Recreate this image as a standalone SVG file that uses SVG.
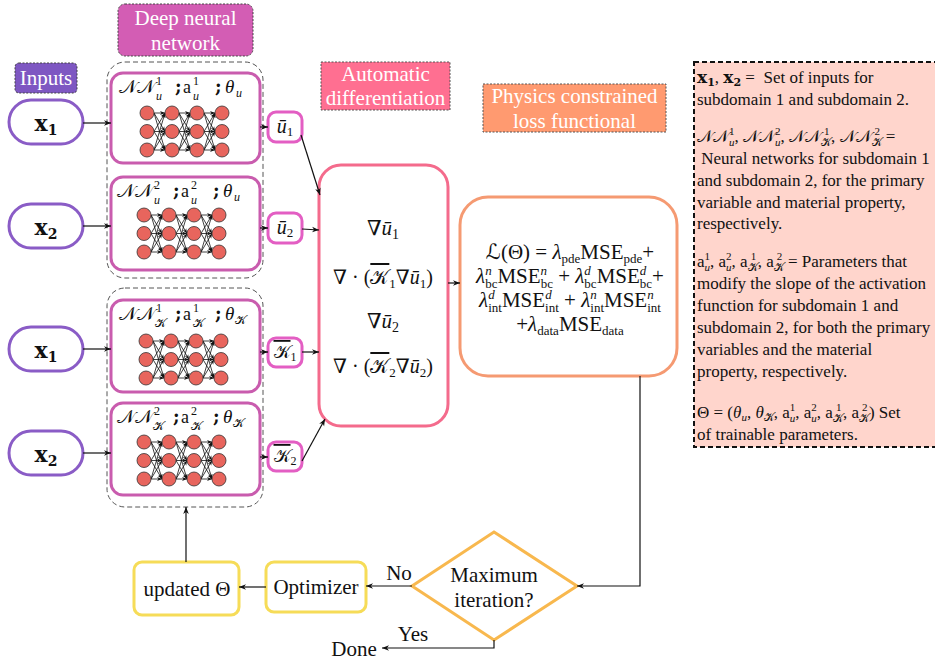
<svg xmlns="http://www.w3.org/2000/svg" width="935" height="663" viewBox="0 0 935 663">
<style>
.lbl{font-family:"Liberation Serif",serif;font-size:21px;fill:#fff;text-anchor:middle}
.t21{font-family:"Liberation Serif",serif;font-size:21px;fill:#111;text-anchor:middle}
.m{font-family:"Liberation Serif","DejaVu Serif",serif;fill:#111}
.it{font-style:italic}
.bx{font-family:"DejaVu Serif",serif;font-weight:bold;fill:#111}
.cal{font-family:"DejaVu Serif","DejaVu Sans","Noto Sans",serif;font-style:normal}
.ov{text-decoration:overline}
.oval{fill:#fff;stroke:#8a5cc6;stroke-width:3}
.nnbox{fill:#fff;stroke:#c95cae;stroke-width:3}
.obox{fill:#fff;stroke:#e35ec3;stroke-width:3}
.grp{fill:none;stroke:#555;stroke-width:1;stroke-dasharray:5 3}
.yb{fill:#fff;stroke:#f6dc58;stroke-width:3}
.conn{fill:none;stroke:#111;stroke-width:1.2;marker-end:url(#ah)}
.nl{stroke:#111;stroke-width:0.8;marker-end:url(#ah2)}
.nc{fill:#e8655d;stroke:#333;stroke-width:0.8}
.pt{font-family:"Liberation Serif",serif;font-size:17px;fill:#111}
</style>
<defs>
<marker id="ah" viewBox="0 0 10 10" refX="10" refY="5" markerWidth="7" markerHeight="7" orient="auto" markerUnits="userSpaceOnUse"><path d="M0,1 L10,5 L0,9 L3,5 z" fill="#111"/></marker>
<marker id="ah2" viewBox="0 0 10 10" refX="10" refY="5" markerWidth="5" markerHeight="5" orient="auto" markerUnits="userSpaceOnUse"><path d="M0,1 L10,5 L0,9 L3,5 z" fill="#111"/></marker>
<g id="net">
<line class="nl" x1="7" y1="0" x2="18" y2="0"/><line class="nl" x1="7" y1="0" x2="18" y2="18.5"/><line class="nl" x1="7" y1="0" x2="18" y2="37"/>
<line class="nl" x1="7" y1="18.5" x2="18" y2="0"/><line class="nl" x1="7" y1="18.5" x2="18" y2="18.5"/><line class="nl" x1="7" y1="18.5" x2="18" y2="37"/>
<line class="nl" x1="7" y1="37" x2="18" y2="0"/><line class="nl" x1="7" y1="37" x2="18" y2="18.5"/><line class="nl" x1="7" y1="37" x2="18" y2="37"/>
<line class="nl" x1="32" y1="0" x2="43" y2="0"/><line class="nl" x1="32" y1="0" x2="43" y2="18.5"/><line class="nl" x1="32" y1="0" x2="43" y2="37"/>
<line class="nl" x1="32" y1="18.5" x2="43" y2="0"/><line class="nl" x1="32" y1="18.5" x2="43" y2="18.5"/><line class="nl" x1="32" y1="18.5" x2="43" y2="37"/>
<line class="nl" x1="32" y1="37" x2="43" y2="0"/><line class="nl" x1="32" y1="37" x2="43" y2="18.5"/><line class="nl" x1="32" y1="37" x2="43" y2="37"/>
<line class="nl" x1="57" y1="0" x2="68" y2="0"/><line class="nl" x1="57" y1="0" x2="68" y2="18.5"/><line class="nl" x1="57" y1="0" x2="68" y2="37"/>
<line class="nl" x1="57" y1="18.5" x2="68" y2="0"/><line class="nl" x1="57" y1="18.5" x2="68" y2="18.5"/><line class="nl" x1="57" y1="18.5" x2="68" y2="37"/>
<line class="nl" x1="57" y1="37" x2="68" y2="0"/><line class="nl" x1="57" y1="37" x2="68" y2="18.5"/><line class="nl" x1="57" y1="37" x2="68" y2="37"/>
<circle class="nc" cx="0" cy="0" r="7"/><circle class="nc" cx="25" cy="0" r="7"/><circle class="nc" cx="50" cy="0" r="7"/><circle class="nc" cx="75" cy="0" r="7"/>
<circle class="nc" cx="0" cy="18.5" r="7"/><circle class="nc" cx="25" cy="18.5" r="7"/><circle class="nc" cx="50" cy="18.5" r="7"/><circle class="nc" cx="75" cy="18.5" r="7"/>
<circle class="nc" cx="0" cy="37" r="7"/><circle class="nc" cx="25" cy="37" r="7"/><circle class="nc" cx="50" cy="37" r="7"/><circle class="nc" cx="75" cy="37" r="7"/>
</g>
</defs>
<rect width="935" height="663" fill="#fff"/>

<!-- section labels -->
<g id="label-dnn"><rect x="118" y="4" width="135" height="52" rx="7" fill="#d35db4" stroke="#444" stroke-width="1" stroke-dasharray="2 1.5"/><text class="lbl" x="185.5" y="25">Deep neural</text><text class="lbl" x="185.5" y="50">network</text></g>
<g id="label-inputs"><rect x="15" y="63" width="62" height="30" rx="4" fill="#7e57c2" stroke="#444" stroke-width="1" stroke-dasharray="2 1.5"/><text class="lbl" x="46" y="85">Inputs</text></g>
<g id="label-ad"><rect x="321" y="62" width="129" height="48" fill="#ff6f91" stroke="#555" stroke-width="1" stroke-dasharray="2 1.5"/><text class="lbl" x="385.5" y="81">Automatic</text><text class="lbl" x="385.5" y="105">differentiation</text></g>
<g id="label-loss"><rect x="483" y="84" width="183" height="48" fill="#ff9a70" stroke="#555" stroke-width="1" stroke-dasharray="2 1.5"/><text class="lbl" x="574.5" y="103">Physics constrained</text><text class="lbl" x="574.5" y="128">loss functional</text></g>

<!-- dashed groups -->
<g id="group-u"><rect class="grp" x="107" y="62" width="156" height="216" rx="18"/></g>
<g id="group-k"><rect class="grp" x="107" y="288" width="156" height="219" rx="18"/></g>

<!-- inputs -->
<g id="in-x1a"><rect class="oval" x="9" y="100" width="74" height="44" rx="22"/><text class="bx" x="46" y="131" font-size="22" text-anchor="middle">x<tspan font-size="14" dy="4">1</tspan></text></g>
<g id="in-x2a"><rect class="oval" x="9" y="204" width="74" height="44" rx="22"/><text class="bx" x="46" y="235" font-size="22" text-anchor="middle">x<tspan font-size="14" dy="4">2</tspan></text></g>
<g id="in-x1b"><rect class="oval" x="9" y="327" width="74" height="44" rx="22"/><text class="bx" x="46" y="358" font-size="22" text-anchor="middle">x<tspan font-size="14" dy="4">1</tspan></text></g>
<g id="in-x2b"><rect class="oval" x="9" y="431" width="74" height="44" rx="22"/><text class="bx" x="46" y="462" font-size="22" text-anchor="middle">x<tspan font-size="14" dy="4">2</tspan></text></g>

<!-- NN boxes -->
<g id="nn-u1"><rect class="nnbox" x="111" y="73" width="149" height="90" rx="12"/>
<text class="m" x="119" y="93" font-size="19"><tspan class="cal">𝒩𝒩</tspan></text><text class="m" x="156" y="85" font-size="12">1</text><text class="m it" x="156" y="100" font-size="12">u</text>
<text class="bx" x="175" y="93" font-size="18">;</text><text class="m" x="183" y="93" font-size="18">a</text><text class="m" x="193" y="85" font-size="12">1</text><text class="m it" x="193" y="100" font-size="12">u</text>
<text class="bx" x="215" y="93" font-size="18">;</text><text class="m it" x="225" y="93" font-size="19">θ</text><text class="m it" x="236" y="97" font-size="12">u</text>
<use href="#net" x="147" y="113"/></g>
<g id="nn-u2"><rect class="nnbox" x="111" y="177" width="149" height="93" rx="12"/>
<text class="m" x="117" y="197" font-size="19"><tspan class="cal">𝒩𝒩</tspan></text><text class="m" x="154" y="189" font-size="12">2</text><text class="m it" x="154" y="204" font-size="12">u</text>
<text class="bx" x="173" y="197" font-size="18">;</text><text class="m" x="181" y="197" font-size="18">a</text><text class="m" x="191" y="189" font-size="12">2</text><text class="m it" x="191" y="204" font-size="12">u</text>
<text class="bx" x="213" y="197" font-size="18">;</text><text class="m it" x="223" y="197" font-size="19">θ</text><text class="m it" x="234" y="201" font-size="12">u</text>
<use href="#net" x="144" y="215"/></g>
<g id="nn-k1"><rect class="nnbox" x="111" y="300" width="149" height="92" rx="12"/>
<text class="m" x="119" y="320" font-size="19"><tspan class="cal">𝒩𝒩</tspan></text><text class="m" x="156" y="312" font-size="12">1</text><text class="m cal" x="155" y="327" font-size="12">𝒦</text>
<text class="bx" x="175" y="320" font-size="18">;</text><text class="m" x="183" y="320" font-size="18">a</text><text class="m" x="193" y="312" font-size="12">1</text><text class="m cal" x="193" y="327" font-size="12">𝒦</text>
<text class="bx" x="215" y="320" font-size="18">;</text><text class="m it" x="225" y="320" font-size="19">θ</text><text class="m cal" x="235" y="324" font-size="12">𝒦</text>
<use href="#net" x="146" y="341"/></g>
<g id="nn-k2"><rect class="nnbox" x="111" y="403" width="149" height="92" rx="12"/>
<text class="m" x="117" y="423" font-size="19"><tspan class="cal">𝒩𝒩</tspan></text><text class="m" x="154" y="415" font-size="12">2</text><text class="m cal" x="153" y="430" font-size="12">𝒦</text>
<text class="bx" x="173" y="423" font-size="18">;</text><text class="m" x="181" y="423" font-size="18">a</text><text class="m" x="191" y="415" font-size="12">2</text><text class="m cal" x="191" y="430" font-size="12">𝒦</text>
<text class="bx" x="213" y="423" font-size="18">;</text><text class="m it" x="223" y="423" font-size="19">θ</text><text class="m cal" x="233" y="427" font-size="12">𝒦</text>
<use href="#net" x="144" y="442"/></g>

<!-- outputs -->
<g id="out-u1"><rect class="obox" x="268" y="112" width="34" height="30" rx="8"/><text class="m" x="285" y="133" font-size="20" text-anchor="middle"><tspan class="it">ū</tspan><tspan font-size="13" dy="3">1</tspan></text></g>
<g id="out-u2"><rect class="obox" x="268" y="213" width="34" height="30" rx="8"/><text class="m" x="285" y="234" font-size="20" text-anchor="middle"><tspan class="it">ū</tspan><tspan font-size="13" dy="3">2</tspan></text></g>
<g id="out-k1"><rect class="obox" x="268" y="338" width="34" height="29" rx="8"/><text class="m" x="285" y="358" font-size="18" text-anchor="middle"><tspan class="cal ov">𝒦</tspan><tspan font-size="12" dy="3">1</tspan></text></g>
<g id="out-k2"><rect class="obox" x="268" y="442" width="34" height="29" rx="8"/><text class="m" x="285" y="462" font-size="18" text-anchor="middle"><tspan class="cal ov">𝒦</tspan><tspan font-size="12" dy="3">2</tspan></text></g>

<!-- automatic differentiation box -->
<g id="autodiff"><rect x="319" y="165" width="129" height="261" rx="22" fill="#fff" stroke="#f46b8c" stroke-width="3"/>
<text class="m" x="383" y="235" font-size="21" text-anchor="middle">∇<tspan class="it">ū</tspan><tspan font-size="14" dy="4">1</tspan></text>
<text class="m" x="383" y="284" font-size="20" text-anchor="middle">∇ · (<tspan class="cal ov">𝒦</tspan><tspan font-size="13" dy="4">1</tspan><tspan dy="-4">∇</tspan><tspan class="it">ū</tspan><tspan font-size="13" dy="4">1</tspan><tspan dy="-4">)</tspan></text>
<text class="m" x="383" y="328" font-size="21" text-anchor="middle">∇<tspan class="it">ū</tspan><tspan font-size="14" dy="4">2</tspan></text>
<text class="m" x="383" y="373" font-size="20" text-anchor="middle">∇ · (<tspan class="cal ov">𝒦</tspan><tspan font-size="13" dy="4">2</tspan><tspan dy="-4">∇</tspan><tspan class="it">ū</tspan><tspan font-size="13" dy="4">2</tspan><tspan dy="-4">)</tspan></text>
</g>

<!-- loss functional box -->
<g id="loss"><rect x="460" y="197" width="217" height="179" rx="28" fill="#fff" stroke="#f59a72" stroke-width="3"/>
<text class="m" x="570" y="259" font-size="21" text-anchor="middle"><tspan class="cal">ℒ</tspan>(Θ) = <tspan class="it">λ</tspan><tspan font-size="13" dy="4">pde</tspan><tspan dy="-4">MSE</tspan><tspan font-size="13" dy="4">pde</tspan><tspan dy="-4">+</tspan></text>
<text class="m" x="570" y="283" font-size="21" text-anchor="middle"><tspan class="it">λ</tspan><tspan font-size="13" dy="5">bc</tspan><tspan font-size="13" class="it" dx="-12.3" dy="-13">n</tspan><tspan dx="5.8" dy="8">MSE</tspan><tspan font-size="13" dy="5">bc</tspan><tspan font-size="13" class="it" dx="-12.3" dy="-13">n</tspan><tspan dx="5.8" dy="8"> + </tspan><tspan class="it">λ</tspan><tspan font-size="13" dy="5">bc</tspan><tspan font-size="13" class="it" dx="-12.3" dy="-13">d</tspan><tspan dx="5.8" dy="8">MSE</tspan><tspan font-size="13" dy="5">bc</tspan><tspan font-size="13" class="it" dx="-12.3" dy="-13">d</tspan><tspan dx="5.8" dy="8">+</tspan></text>
<text class="m" x="570" y="307" font-size="21" text-anchor="middle"><tspan class="it">λ</tspan><tspan font-size="13" dy="5">int</tspan><tspan font-size="13" class="it" dx="-13.7" dy="-13">d</tspan><tspan dx="7.2" dy="8">MSE</tspan><tspan font-size="13" dy="5">int</tspan><tspan font-size="13" class="it" dx="-13.7" dy="-13">d</tspan><tspan dx="7.2" dy="8"> + </tspan><tspan class="it">λ</tspan><tspan font-size="13" dy="5">int</tspan><tspan font-size="13" class="it" dx="-13.7" dy="-13">n</tspan><tspan dx="7.2" dy="8">MSE</tspan><tspan font-size="13" dy="5">int</tspan><tspan font-size="13" class="it" dx="-13.7" dy="-13">n</tspan></text>
<text class="m" x="570" y="331" font-size="21" text-anchor="middle">+<tspan class="it">λ</tspan><tspan font-size="13" dy="4">data</tspan><tspan dy="-4">MSE</tspan><tspan font-size="13" dy="4">data</tspan></text>
</g>

<!-- legend panel -->
<g id="legend"><rect x="694" y="62" width="245" height="385" fill="#ffd5cc" stroke="#111" stroke-width="2" stroke-dasharray="5 3"/>
<text class="pt" x="697" y="83"><tspan class="bx">x</tspan><tspan class="bx" font-size="11" dy="3">1</tspan><tspan dy="-3">, </tspan><tspan class="bx">x</tspan><tspan class="bx" font-size="11" dy="3">2</tspan><tspan dy="-3"> =&#160; Set of inputs for</tspan></text>
<text class="pt" x="697" y="105">subdomain 1 and subdomain 2.</text>
<text class="pt" x="697" y="142"><tspan class="cal">𝒩𝒩</tspan><tspan class="it" font-size="11" dy="4">u</tspan><tspan font-size="11" dx="-5.5" dy="-11">1</tspan><tspan dy="7">, </tspan><tspan class="cal">𝒩𝒩</tspan><tspan class="it" font-size="11" dy="4">u</tspan><tspan font-size="11" dx="-5.5" dy="-11">2</tspan><tspan dy="7">, </tspan><tspan class="cal">𝒩𝒩</tspan><tspan class="cal" font-size="11" dy="4">𝒦</tspan><tspan font-size="11" dx="-7" dy="-11">1</tspan><tspan dx="1.5" dy="7">, </tspan><tspan class="cal">𝒩𝒩</tspan><tspan class="cal" font-size="11" dy="4">𝒦</tspan><tspan font-size="11" dx="-7" dy="-11">2</tspan><tspan dx="1.5" dy="7"> =</tspan></text>
<text class="pt" x="697" y="164">&#160;Neural networks for subdomain 1</text>
<text class="pt" x="697" y="186">and subdomain 2, for the primary</text>
<text class="pt" x="697" y="208">variable and material property,</text>
<text class="pt" x="697" y="229">respectively.</text>
<text class="pt" x="697" y="267">a<tspan class="it" font-size="11" dy="4">u</tspan><tspan font-size="11" dx="-5.5" dy="-11">1</tspan><tspan dy="7">, a</tspan><tspan class="it" font-size="11" dy="4">u</tspan><tspan font-size="11" dx="-5.5" dy="-11">2</tspan><tspan dy="7">, a</tspan><tspan class="cal" font-size="11" dy="4">𝒦</tspan><tspan font-size="11" dx="-7" dy="-11">1</tspan><tspan dx="1.5" dy="7">, a</tspan><tspan class="cal" font-size="11" dy="4">𝒦</tspan><tspan font-size="11" dx="-7" dy="-11">2</tspan><tspan dx="1.5" dy="7"> = Parameters that</tspan></text>
<text class="pt" x="697" y="289">modify the slope of the activation</text>
<text class="pt" x="697" y="311">function for subdomain 1 and</text>
<text class="pt" x="697" y="333">subdomain 2, for both the primary</text>
<text class="pt" x="697" y="355">variables and the material</text>
<text class="pt" x="697" y="377">property, respectively.</text>
<text class="pt" x="697" y="418">Θ = (<tspan class="it">θ</tspan><tspan class="it" font-size="11" dy="3">u</tspan><tspan dy="-3">, </tspan><tspan class="it">θ</tspan><tspan class="cal" font-size="11" dy="3">𝒦</tspan><tspan dy="-3">, a</tspan><tspan class="it" font-size="11" dy="4">u</tspan><tspan font-size="11" dx="-5.5" dy="-11">1</tspan><tspan dy="7">, a</tspan><tspan class="it" font-size="11" dy="4">u</tspan><tspan font-size="11" dx="-5.5" dy="-11">2</tspan><tspan dy="7">, a</tspan><tspan class="cal" font-size="11" dy="4">𝒦</tspan><tspan font-size="11" dx="-7" dy="-11">1</tspan><tspan dx="1.5" dy="7">, a</tspan><tspan class="cal" font-size="11" dy="4">𝒦</tspan><tspan font-size="11" dx="-7" dy="-11">2</tspan><tspan dx="1.5" dy="7">) Set</tspan></text>
<text class="pt" x="697" y="440">of trainable parameters.</text>
</g>

<!-- flowchart nodes -->
<g id="decision"><polygon points="494,532 577,586 494,640 412,586" fill="#fff" stroke="#f8b84e" stroke-width="3"/><text class="t21" x="494" y="582">Maximum</text><text class="t21" x="494" y="607">iteration?</text></g>
<g id="optimizer"><rect class="yb" x="266" y="562" width="100" height="50" rx="8"/><text class="t21" x="316" y="594">Optimizer</text></g>
<g id="updated"><rect class="yb" x="134" y="562" width="105" height="53" rx="8"/><text class="t21" x="187" y="596">updated Θ</text></g>
<g id="done"><text class="t21" x="354" y="656">Done</text></g>

<!-- connectors -->
<g id="connectors">
<line class="conn" x1="83" y1="123" x2="111" y2="123"/>
<line class="conn" x1="83" y1="226" x2="111" y2="226"/>
<line class="conn" x1="83" y1="349" x2="111" y2="349"/>
<line class="conn" x1="83" y1="453" x2="111" y2="453"/>
<line class="conn" x1="260" y1="127" x2="268" y2="127"/>
<line class="conn" x1="260" y1="228" x2="268" y2="228"/>
<line class="conn" x1="260" y1="352" x2="268" y2="352"/>
<line class="conn" x1="260" y1="457" x2="268" y2="457"/>
<line class="conn" x1="301" y1="135" x2="320" y2="195"/>
<line class="conn" x1="302" y1="229" x2="319" y2="230"/>
<line class="conn" x1="302" y1="352" x2="319" y2="352"/>
<line class="conn" x1="302" y1="461" x2="325" y2="419"/>
<line class="conn" x1="448" y1="283" x2="460" y2="283"/>
<path class="conn" d="M640,376 V586 H577"/>
<line class="conn" x1="412" y1="586" x2="366" y2="586"/>
<line class="conn" x1="266" y1="587" x2="239" y2="587"/>
<line class="conn" x1="186" y1="562" x2="186" y2="507"/>
<path class="conn" d="M494,640 V648 H382"/>
<text class="t21" x="399" y="580">No</text>
<text class="t21" x="413" y="641">Yes</text>
</g>
</svg>
